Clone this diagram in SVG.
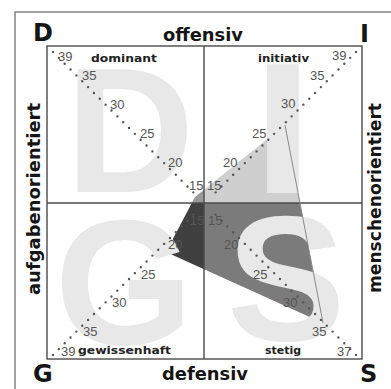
<svg xmlns="http://www.w3.org/2000/svg" width="391" height="389" viewBox="0 0 391 389">
<style>
.big{font-family:"Liberation Sans",Arial,sans-serif;font-weight:bold;font-size:178px;fill:#e8e8e8}
.ax{font-family:"DejaVu Sans",sans-serif;font-weight:bold;font-size:18px;fill:#151515}
.cn{font-family:"DejaVu Sans",sans-serif;font-weight:bold;font-size:24px;fill:#151515}
.ql{font-family:"DejaVu Sans",sans-serif;font-weight:bold;font-size:11px;fill:#222}
.num{font-family:"Liberation Sans",Arial,sans-serif;font-size:13px;fill:#555}
.dots{fill:none;stroke:#555;stroke-width:2.4;stroke-linecap:round;stroke-dasharray:0 8.27}
.grid{fill:none;stroke:#4a4a4a;stroke-width:1.4}
</style>
<rect width="391" height="389" fill="#fff"/>
<rect x="15" y="12" width="420" height="420" fill="none" stroke="#8a8a8a" stroke-width="1.6"/>
<g id="profile">
<polygon points="195,197 204,189.8 204,203 191.8,203" fill="#999"/>
<polygon points="204,189.8 285,125 300,203 204,203" fill="#cfcfcf"/>
<polygon points="204,203 300,203 323,323 204,269.2" fill="#7b7b7b"/>
<polygon points="191.8,203 204,203 204,269.2 166,252" fill="#404040"/>
</g>
<g id="letters">
<text class="big" x="130" y="192" text-anchor="middle">D</text>
<text class="big" x="283" y="190" text-anchor="middle" font-size="172" stroke="#e8e8e8" stroke-width="6">I</text>
<text class="big" x="124" y="344" text-anchor="middle">G</text>
<text class="big" x="286" y="340" text-anchor="middle">S</text>
</g>
<g id="grid">
<rect class="grid" x="47" y="46" width="315" height="313"/>
<line class="grid" x1="204" y1="46" x2="204" y2="359"/>
<line class="grid" x1="47" y1="203" x2="362" y2="203"/>
</g>
<g id="connectors">
<line x1="285" y1="125" x2="323" y2="323" stroke="#8a8a8a" stroke-width="1"/>
<path class="dots" d="M53 52 L193.6 192.6"/>
<path class="dots" d="M356 52 L215.4 192.6"/>
<path class="dots" d="M53 355 L193.6 214.4"/>
<path class="dots" d="M356 355 L215.4 214.4"/>
</g>
<g id="scale-D">
<text class="num" x="58" y="61">39</text>
<text class="num" x="82" y="80">35</text>
<text class="num" x="110" y="109">30</text>
<text class="num" x="140" y="138">25</text>
<text class="num" x="168" y="167">20</text>
<text class="num" x="189" y="190">15</text>
</g>
<g id="scale-I">
<text class="num" x="332" y="60">39</text>
<text class="num" x="310" y="80">35</text>
<text class="num" x="281" y="108">30</text>
<text class="num" x="252" y="138">25</text>
<text class="num" x="223" y="167">20</text>
<text class="num" x="207" y="190">15</text>
</g>
<g id="scale-G">
<text class="num" x="61" y="356">39</text>
<text class="num" x="83" y="336">35</text>
<text class="num" x="112" y="307">30</text>
<text class="num" x="141" y="279">25</text>
<text class="num" x="168" y="249">20</text>
<text class="num" x="190" y="225">15</text>
</g>
<g id="scale-S">
<text class="num" x="208" y="225">15</text>
<text class="num" x="224" y="249">20</text>
<text class="num" x="253" y="279">25</text>
<text class="num" x="283" y="307">30</text>
<text class="num" x="312" y="336">35</text>
<text class="num" x="337" y="356">37</text>
</g>
<g id="quadrant-labels">
<text class="ql" x="91" y="62" textLength="66" lengthAdjust="spacingAndGlyphs">dominant</text>
<text class="ql" x="258" y="62" textLength="51" lengthAdjust="spacingAndGlyphs">initiativ</text>
<text class="ql" x="78" y="354" textLength="93" lengthAdjust="spacingAndGlyphs">gewissenhaft</text>
<text class="ql" x="265" y="354" textLength="36" lengthAdjust="spacingAndGlyphs">stetig</text>
</g>
<g id="axis-labels">
<text class="cn" x="33" y="41">D</text>
<text class="cn" x="360" y="42">I</text>
<text class="cn" x="33" y="382">G</text>
<text class="cn" x="360" y="382">S</text>
<text class="ax" x="163" y="41" textLength="80" lengthAdjust="spacingAndGlyphs">offensiv</text>
<text class="ax" x="162" y="380" textLength="86" lengthAdjust="spacingAndGlyphs">defensiv</text>
<text class="ax" transform="translate(40,199) rotate(-90)" text-anchor="middle" textLength="192" lengthAdjust="spacingAndGlyphs">aufgabenorientiert</text>
<text class="ax" transform="translate(381,198) rotate(-90)" text-anchor="middle" textLength="190" lengthAdjust="spacingAndGlyphs">menschenorientiert</text>
</g>
</svg>
